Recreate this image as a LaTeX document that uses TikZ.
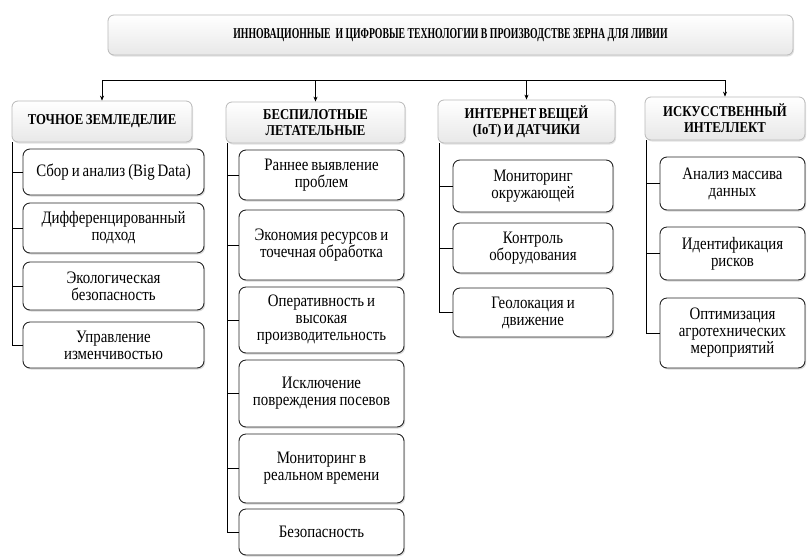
\documentclass[tikz,border=0pt]{standalone}
\usepackage{fontspec}
\setmainfont{Liberation Serif}
\newfontfamily\tallserif[FakeStretch=0.85,WordSpace=0.8]{Liberation Serif}
\newfontfamily\titleserif[FakeStretch=0.65]{Liberation Serif}
\usetikzlibrary{arrows.meta,shadows}

\begin{document}
\begin{tikzpicture}[
        x=1pt,y=-1pt,
        TitleCfg/.style={
            draw=gray!55, rounded corners=6pt, line width=0.8pt,
            top color=white, bottom color=gray!18,
            drop shadow={shadow xshift=1pt,shadow yshift=-1.5pt,fill=gray!45},
            inner sep=2pt, align=center,
            font=\titleserif\fontsize{15}{16}\selectfont\bfseries
        },
        HeadCfg/.style={
            draw=gray!55, rounded corners=6pt, line width=0.8pt,
            top color=white, bottom color=gray!18,
            drop shadow={shadow xshift=1pt,shadow yshift=-1.5pt,fill=gray!45},
            inner sep=2pt, align=center,
            font=\tallserif\fontsize{15}{16}\selectfont\bfseries
        },
        ItemCfg/.style={
            draw=black!85, rounded corners=7pt, line width=0.9pt, fill=white,
            drop shadow={shadow xshift=1.2pt,shadow yshift=-1.5pt,fill=gray!60},
            inner sep=2pt, align=center,
            font=\tallserif\fontsize{17.5}{17}\selectfont
        },
        BusArrow/.style={-{Stealth[length=5pt,width=4pt]}, line width=0.6pt}
    ]
    \useasboundingbox (0,0) rectangle (807,558);

    % title
    \node[TitleCfg, minimum width=685, minimum height=40] (title) at (450.5,35)
        {ИННОВАЦИОННЫЕ \ И ЦИФРОВЫЕ ТЕХНОЛОГИИ В ПРОИЗВОДСТВЕ ЗЕРНА ДЛЯ ЛИВИИ};

    % column headers
    \node[HeadCfg, minimum width=180, minimum height=41] (h1) at (102,121.5) {ТОЧНОЕ ЗЕМЛЕДЕЛИЕ};
    \node[HeadCfg, minimum width=179, minimum height=41] (h2) at (315.5,122.5) {БЕСПИЛОТНЫЕ\\ЛЕТАТЕЛЬНЫЕ};
    \node[HeadCfg, minimum width=177, minimum height=43] (h3) at (526.5,121.5) {ИНТЕРНЕТ ВЕЩЕЙ\\(IoT) И ДАТЧИКИ};
    \node[HeadCfg, minimum width=160, minimum height=43] (h4) at (725,118.5) {ИСКУССТВЕННЫЙ\\ИНТЕЛЛЕКТ};

    % bus from the title level
    \coordinate (busL) at (102,80);
    \coordinate (busR) at (725,80);
    \draw[line width=0.6pt] (busL) -- (busR);
    \foreach \h in {h1,h2,h3,h4}
        \draw[BusArrow] (\h.north |- busL) -- (\h.north);

    % column 1
    \node[ItemCfg, minimum width=181, minimum height=46] (a1) at (113.5,172) {Сбор и анализ (Big Data)};
    \node[ItemCfg, minimum width=181, minimum height=50] (a2) at (113.5,228) {Дифференцированный\\подход};
    \node[ItemCfg, minimum width=181, minimum height=48] (a3) at (113.5,286) {Экологическая\\безопасность};
    \node[ItemCfg, minimum width=181, minimum height=46] (a4) at (113.5,345) {Управление\\изменчивостью};

    % column 2
    \node[ItemCfg, minimum width=165, minimum height=50] (b1) at (321.5,175) {Раннее выявление\\проблем};
    \node[ItemCfg, minimum width=165, minimum height=70] (b2) at (321.5,245) {Экономия ресурсов и\\точечная обработка};
    \node[ItemCfg, minimum width=165, minimum height=66] (b3) at (321.5,320) {Оперативность и\\высокая\\производительность};
    \node[ItemCfg, minimum width=165, minimum height=67] (b4) at (321.5,393.5) {Исключение\\повреждения посевов};
    \node[ItemCfg, minimum width=165, minimum height=69] (b5) at (321.5,468.5) {Мониторинг в\\реальном времени};
    \node[ItemCfg, minimum width=165, minimum height=46] (b6) at (321.5,532) {Безопасность};

    % column 3
    \node[ItemCfg, minimum width=160, minimum height=52] (c1) at (533,186) {Мониторинг\\окружающей};
    \node[ItemCfg, minimum width=160, minimum height=50] (c2) at (533,248) {Контроль\\оборудования};
    \node[ItemCfg, minimum width=160, minimum height=49] (c3) at (533,312.5) {Геолокация и\\движение};

    % column 4
    \node[ItemCfg, minimum width=145, minimum height=53] (d1) at (732.5,183.5) {Анализ массива\\данных};
    \node[ItemCfg, minimum width=145, minimum height=53] (d2) at (732.5,253.5) {Идентификация\\рисков};
    \node[ItemCfg, minimum width=145, minimum height=70] (d3) at (732.5,333) {Оптимизация\\агротехнических\\мероприятий};

    % tree lines
    \coordinate (s1) at ([xshift=1pt]h1.south west);
    \coordinate (s2) at ([xshift=2pt]h2.south west);
    \coordinate (s3) at ([xshift=2pt]h3.south west);
    \coordinate (s4) at ([xshift=2pt]h4.south west);
    \draw[line width=0.6pt] (s1) |- (a4.west);
    \foreach \i in {a1,a2,a3}
        \draw[line width=0.6pt] (\i.west) -- (\i.west -| s1);
    \draw[line width=0.6pt] (s2) |- (b6.west);
    \foreach \i in {b1,b2,b3,b4,b5}
        \draw[line width=0.6pt] (\i.west) -- (\i.west -| s2);
    \draw[line width=0.6pt] (s3) |- (c3.west);
    \foreach \i in {c1,c2}
        \draw[line width=0.6pt] (\i.west) -- (\i.west -| s3);
    \draw[line width=0.6pt] (s4) |- (d3.west);
    \foreach \i in {d1,d2}
        \draw[line width=0.6pt] (\i.west) -- (\i.west -| s4);

\end{tikzpicture}
\end{document}
